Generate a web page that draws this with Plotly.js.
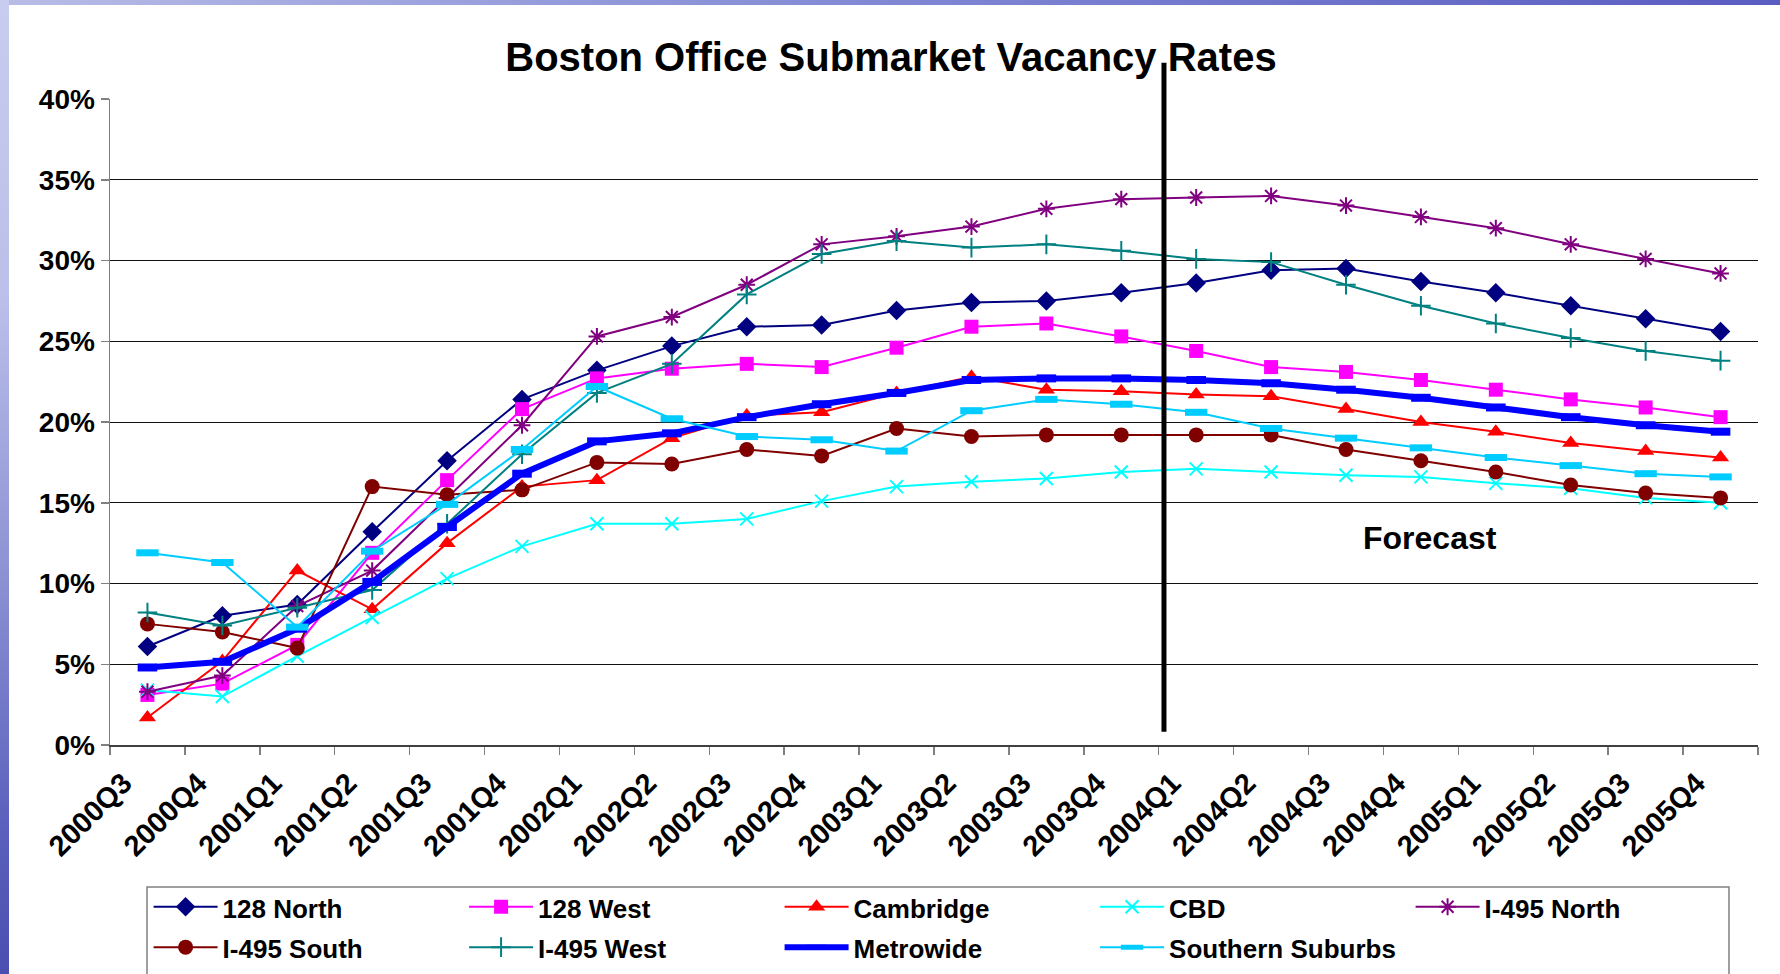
<!DOCTYPE html>
<html>
<head>
<meta charset="utf-8">
<script src="https://cdn.plot.ly/plotly-3.0.1.min.js"></script>
<style>
html,body{margin:0;padding:0;width:1780px;height:974px;overflow:hidden;background:#fff;}
#topband{position:absolute;left:0;top:0;width:1780px;height:5px;background:linear-gradient(to right,#b8bce6,#8088d4 50%,#5a5cc0);}
#leftband{position:absolute;left:0;top:0;width:9px;height:974px;background:linear-gradient(to bottom,#c8ccee 0%,#bcc0ea 30%,#8a90d2 60%,#5a60bc 85%,#4a4eb0 100%);}
#chart{position:absolute;left:9px;top:5px;width:1771px;height:969px;}
</style>
</head>
<body>
<div id="topband"></div>
<div id="leftband"></div>
<div id="chart"></div>
<script>
const quarters = ['2000Q3','2000Q4','2001Q1','2001Q2','2001Q3','2001Q4','2002Q1','2002Q2','2002Q3','2002Q4','2003Q1','2003Q2','2003Q3','2003Q4','2004Q1','2004Q2','2004Q3','2004Q4','2005Q1','2005Q2','2005Q3','2005Q4'];

const north128   = [6.1, 8.0, 8.7, 13.2, 17.6, 21.4, 23.2, 24.7, 25.9, 26.0, 26.9, 27.4, 27.5, 28.0, 28.6, 29.4, 29.5, 28.7, 28.0, 27.2, 26.4, 25.6];
const west128    = [3.1, 3.8, 6.2, 11.9, 16.4, 20.8, 22.7, 23.3, 23.6, 23.4, 24.6, 25.9, 26.1, 25.3, 24.4, 23.4, 23.1, 22.6, 22.0, 21.4, 20.9, 20.3];
const cambridge  = [1.7, 5.2, 10.8, 8.4, 12.5, 16.0, 16.4, 19.0, 20.4, 20.6, 21.8, 22.8, 22.0, 21.9, 21.7, 21.6, 20.8, 20.0, 19.4, 18.7, 18.2, 17.8];
const cbd        = [3.4, 3.0, 5.5, 7.9, 10.3, 12.3, 13.7, 13.7, 14.0, 15.1, 16.0, 16.3, 16.5, 16.9, 17.1, 16.9, 16.7, 16.6, 16.2, 15.9, 15.3, 15.0];
const i495North  = [3.3, 4.3, 8.6, 10.8, 15.3, 19.8, 25.3, 26.5, 28.5, 31.0, 31.5, 32.1, 33.2, 33.8, 33.9, 34.0, 33.4, 32.7, 32.0, 31.0, 30.1, 29.2];
const i495South  = [7.5, 7.0, 6.0, 16.0, 15.5, 15.8, 17.5, 17.4, 18.3, 17.9, 19.6, 19.1, 19.2, 19.2, 19.2, 19.2, 18.3, 17.6, 16.9, 16.1, 15.6, 15.3];
const i495West   = [8.2, 7.4, 8.5, 9.6, 13.7, 18.0, 21.8, 23.6, 27.9, 30.4, 31.2, 30.8, 31.0, 30.6, 30.1, 29.9, 28.5, 27.2, 26.1, 25.2, 24.4, 23.8];
const metrowide  = [4.8, 5.15, 7.2, 10.1, 13.5, 16.8, 18.8, 19.3, 20.3, 21.1, 21.8, 22.6, 22.7, 22.7, 22.6, 22.4, 22.0, 21.5, 20.9, 20.3, 19.8, 19.4];
const southSub   = [11.9, 11.3, 7.3, 12.0, 14.9, 18.3, 22.2, 20.2, 19.1, 18.9, 18.2, 20.7, 21.4, 21.1, 20.6, 19.6, 19.0, 18.4, 17.8, 17.3, 16.8, 16.6];

const yTicks = [0, 5, 10, 15, 20, 25, 30, 35, 40];
const titleText = 'Boston Office Submarket Vacancy Rates';
const forecastText = 'Forecast';

const F = 'Arial, "Liberation Sans", Helvetica, sans-serif';

function series(name, y, color, symbol, size, opts) {
  opts = opts || {};
  return {
    type: 'scatter', mode: 'lines+markers',
    name: '<span style="font-size:26px">' + name + '</span>',
    x: quarters, y: y,
    line: {color: color, width: opts.lw || 2},
    marker: {symbol: symbol, size: size, color: color, line: {width: opts.mlw || 0, color: color}},
    cliponaxis: false
  };
}

const data = [
  series('128 North', north128, '#000080', 'diamond', 15),
  series('128 West', west128, '#ff00ff', 'square', 14),
  series('Cambridge', cambridge, '#ff0000', 'triangle-up', 15),
  series('CBD', cbd, '#00ffff', 'x-thin', 13, {mlw: 2}),
  series('I-495 North', i495North, '#800080', 'asterisk', 14, {mlw: 2}),
  series('I-495 South', i495South, '#800000', 'circle', 15),
  series('I-495 West', i495West, '#008080', 'cross-thin', 14, {mlw: 2}),
  series('Metrowide', metrowide, '#0000ff', 'line-ew', 14, {lw: 6, mlw: 8}),
  series('Southern Suburbs', southSub, '#00ccff', 'line-ew', 16, {mlw: 7})
];

const layout = {
  width: 1771, height: 969,
  margin: {l: 101, r: 22, t: 94, b: 229, autoexpand: false},
  paper_bgcolor: '#ffffff', plot_bgcolor: '#ffffff',
  showlegend: true,
  title: {text: titleText, font: {family: F, size: 40, weight: 'bold', color: '#000'},
          xref: 'container', x: 0.498, xanchor: 'center', yref: 'container', y: 0.946, yanchor: 'middle'},
  xaxis: {type: 'category', range: [-0.5, 21.5], tickson: 'boundaries', ticks: 'outside', ticklen: 8,
          tickcolor: '#808080', tickwidth: 1.5, showline: true, linecolor: '#404040', linewidth: 1.5,
          showgrid: false, tickangle: -45, ticklabelshift: -24, ticklabelstandoff: 8,
          tickfont: {family: F, size: 29, weight: 'bold', color: '#000'},
          fixedrange: true},
  yaxis: {range: [0, 40], tickvals: yTicks, ticktext: yTicks.map(v => v + '%'), ticks: 'outside', ticklen: 8,
          tickcolor: '#808080', tickwidth: 1.5, showline: true, linecolor: '#808080', linewidth: 1.5,
          showgrid: true, gridcolor: '#111', gridwidth: 1, zeroline: false,
          tickfont: {family: F, size: 28, weight: 'bold', color: '#000'}, fixedrange: true},
  legend: {orientation: 'h', x: 0.0225, xanchor: 'left', y: -0.209, yanchor: 'top',
           bordercolor: 'rgba(0,0,0,0)', borderwidth: 1.5, bgcolor: 'rgba(0,0,0,0)',
           font: {family: F, size: 28.8, weight: 'bold', color: '#000'},
           itemwidth: 64, entrywidth: 236.5, entrywidthmode: 'pixels', traceorder: 'normal'},
  shapes: [
    {type: 'line', xref: 'x', yref: 'paper', x0: 13.57, x1: 13.57, y0: 0.0205, y1: 1.056,
     line: {color: '#000', width: 5}, layer: 'above'},
    {type: 'rect', xref: 'paper', yref: 'paper', x0: 0.02245, x1: 0.9824, y0: -0.2198, y1: -0.5,
     line: {color: '#808080', width: 1.5}, fillcolor: 'rgba(0,0,0,0)', layer: 'below'}
  ],
  annotations: [{text: forecastText, xref: 'x', yref: 'y', x: 17.12, y: 12.8, showarrow: false,
                 font: {family: F, size: 32, weight: 'bold', color: '#000'}}]
};

Plotly.newPlot('chart', data, layout, {displayModeBar: false, staticPlot: true});
</script>
</body>
</html>
